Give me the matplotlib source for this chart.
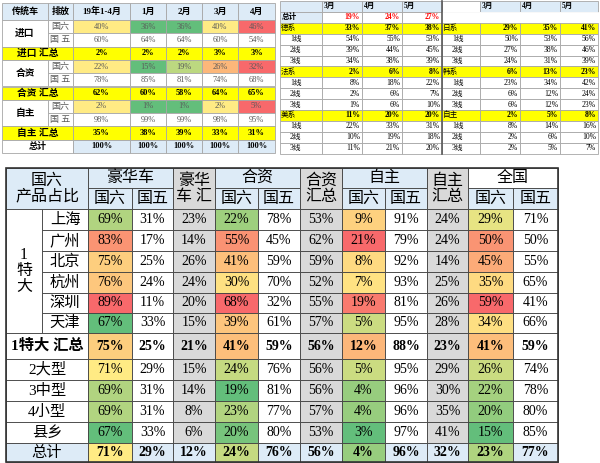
import numpy as np
import matplotlib.pyplot as plt
from matplotlib.patches import Rectangle
from matplotlib.colors import to_rgb

plt.rcParams['font.family'] = ['Liberation Serif', 'Noto Sans CJK SC', 'DejaVu Sans']

# ---------------- data: top-left table ----------------
tl_header = ['传统车', '排放', '19年1-4月', '1月', '2月', '3月', '4月']
tl_groups = ['进口', '合资', '自主']
tl_emis = ['国六', '国 五']
tl_g6 = [[40, 36, 36, 40, 46], [22, 15, 19, 26, 32], [2, 1, 1, 2, 5]]
tl_g5 = [[60, 64, 64, 60, 54], [78, 85, 81, 74, 68], [98, 99, 99, 98, 95]]
tl_sum = [[2, 2, 2, 3, 3], [62, 60, 58, 64, 65], [35, 38, 39, 33, 31]]
tl_total = [100, 100, 100, 100, 100]

# ---------------- data: top-right table ----------------
tr_months = ['3月', '4月', '5月']
tr_total = [19, 24, 27]
tr_left_groups = ['德系', '法系', '美系']
tr_right_groups = ['日系', '韩系', '自主']
tr_lines = ['1线', '2线', '3线']
tr_left = [
    [[33, 37, 38], [54, 55, 53], [39, 44, 45], [34, 38, 39]],
    [[2, 6, 8], [8, 18, 22], [2, 6, 7], [1, 6, 10]],
    [[11, 20, 20], [22, 33, 31], [10, 19, 18], [11, 21, 20]],
]
tr_right = [
    [[29, 35, 41], [50, 53, 56], [27, 38, 46], [24, 31, 39]],
    [[6, 13, 23], [23, 34, 42], [6, 12, 24], [6, 12, 23]],
    [[2, 5, 8], [8, 14, 16], [2, 6, 10], [2, 5, 7]],
]

# ---------------- data: bottom table ----------------
bt_rows = ['上海', '广州', '北京', '杭州', '深圳', '天津', '1特大 汇总',
           '2大型', '3中型', '4小型', '县乡', '总计']
bt_cols = {
    'lux6': [69, 83, 75, 76, 89, 67, 75, 71, 69, 69, 67, 71],
    'lux5': [31, 17, 25, 24, 11, 33, 25, 29, 31, 31, 33, 29],
    'luxs': [23, 14, 26, 24, 20, 15, 21, 15, 14, 8, 6, 12],
    'jv6': [22, 55, 41, 30, 68, 39, 41, 24, 19, 23, 20, 24],
    'jv5': [78, 45, 59, 70, 32, 61, 59, 76, 81, 77, 80, 76],
    'jvs': [53, 62, 59, 52, 55, 57, 56, 56, 56, 57, 53, 56],
    'own6': [9, 21, 8, 7, 19, 5, 12, 5, 4, 4, 3, 4],
    'own5': [91, 79, 92, 93, 81, 95, 88, 95, 96, 96, 97, 96],
    'owns': [24, 24, 14, 25, 26, 28, 23, 29, 30, 35, 41, 32],
    'all6': [29, 50, 45, 35, 59, 34, 41, 26, 22, 20, 15, 23],
    'all5': [71, 50, 55, 65, 41, 66, 59, 74, 78, 80, 85, 77],
}
bt_order = ['lux6', 'lux5', 'luxs', 'jv6', 'jv5', 'jvs', 'own6', 'own5', 'owns', 'all6', 'all5']

# ---------------- styles ----------------
BLUE = '#DDEBF7'
YEL = '#FFFF00'
GRAY = '#D9D9D9'
C_RED, C_YEL, C_GRN = to_rgb('#F8696B'), to_rgb('#FFEB84'), to_rgb('#63BE7B')


def scale3(v, vals):
    # excel style 3-colour scale: green - yellow (median) - red
    lo, mid, hi = min(vals), float(np.median(vals)), max(vals)
    if v <= mid:
        t = 0 if mid == lo else (v - lo) / (mid - lo)
        a, b = C_GRN, C_YEL
    else:
        t = 0 if hi == mid else (v - mid) / (hi - mid)
        a, b = C_YEL, C_RED
    return tuple(a[i] + (b[i] - a[i]) * t for i in range(3))


fig = plt.figure(figsize=(6, 4.63), dpi=100)
ax = fig.add_axes([0, 0, 1, 1])
ax.set_xlim(0, 600)
ax.set_ylim(463, 0)
ax.axis('off')


def cell(x0, x1, y0, y1, text='', fc='white', ec='#A6A6A6', lw=0.6, size=6,
         color='black', weight='normal', ha='center', pad=2):
    ax.add_patch(Rectangle((x0, y0), x1 - x0, y1 - y0, facecolor=fc,
                           edgecolor=ec, linewidth=lw))
    if text != '':
        if ha == 'center':
            tx = (x0 + x1) / 2
        elif ha == 'left':
            tx = x0 + pad
        else:
            tx = x1 - pad
        ax.text(tx, (y0 + y1) / 2, text, ha=ha, va='center', fontsize=size,
                color=color, fontweight=weight, linespacing=1.0)


# ---------------- top-left table ----------------
xe = [2, 48, 73, 130, 166, 202, 238, 275]
ye = [3, 20] + [20 + 13.3 * i for i in range(1, 11)]
for j, h in enumerate(tl_header):
    cell(xe[j], xe[j + 1], ye[0], ye[1], h, fc=BLUE, size=6.5, weight='bold')
for g, name in enumerate(tl_groups):
    r = 1 + 3 * g
    cell(xe[0], xe[1], ye[r], ye[r + 2], name, size=7, weight='bold')
    for k, vals in enumerate([tl_g6[g], tl_g5[g]]):
        cell(xe[1], xe[2], ye[r + k], ye[r + k + 1], tl_emis[k], size=6.5, color='#595959')
        for j, v in enumerate(vals):
            fc = scale3(v, tl_g6[g]) if k == 0 else 'white'
            cell(xe[j + 2], xe[j + 3], ye[r + k], ye[r + k + 1], f'{v}%', fc=fc,
                 size=6, color='#595959')
    cell(xe[0], xe[2], ye[r + 2], ye[r + 3], name + ' 汇总', fc=YEL, size=7, weight='bold')
    for j, v in enumerate(tl_sum[g]):
        cell(xe[j + 2], xe[j + 3], ye[r + 2], ye[r + 3], f'{v}%', fc=YEL, size=6, weight='bold')
cell(xe[0], xe[2], ye[10], ye[11], '总计', size=6.5, weight='bold')
for j, v in enumerate(tl_total):
    cell(xe[j + 2], xe[j + 3], ye[10], ye[11], f'{v}%', fc=BLUE, size=6, weight='bold')

# ---------------- top-right table ----------------
rh = 10.9
ry = [1 + rh * i for i in range(15)]
for side, (xs, groups, data) in enumerate([
        ([280, 322, 362, 402, 442], tr_left_groups, tr_left),
        ([442, 480, 520, 560, 598], tr_right_groups, tr_right)]):
    cell(xs[0], xs[1], ry[0], ry[1], '', fc=BLUE if side == 0 else 'white')
    for j, m in enumerate(tr_months):
        cell(xs[j + 1], xs[j + 2], ry[0], ry[1], m, fc=BLUE, size=5.5, weight='bold', ha='left')
    if side == 0:
        cell(xs[0], xs[1], ry[1], ry[2], '总计', fc=BLUE, size=5.5, weight='bold', ha='left')
        for j, v in enumerate(tr_total):
            cell(xs[j + 1], xs[j + 2], ry[1], ry[2], f'{v}%', size=5.5,
                 color='red', weight='bold', ha='right')
    else:
        for j in range(4):
            cell(xs[j], xs[j + 1], ry[1], ry[2], '', ec='white')
    for g, name in enumerate(groups):
        r = 2 + 4 * g
        for k in range(4):
            fc = YEL if k == 0 else 'white'
            lab = name if k == 0 else tr_lines[k - 1]
            cell(xs[0], xs[1], ry[r + k], ry[r + k + 1], lab, fc=fc, size=5.5,
                 ha='left', pad=1 if k == 0 else 10)
            for j, v in enumerate(data[g][k]):
                cell(xs[j + 1], xs[j + 2], ry[r + k], ry[r + k + 1], f'{v}%', fc=fc,
                     size=5.5, ha='right', weight='bold' if k == 0 else 'normal')
ax.plot([442, 442], [ry[0], ry[14]], color='#595959', lw=1.2)

# ---------------- bottom table ----------------
bx = [6, 42, 88, 132, 173, 215, 258, 300, 342, 385, 427, 468, 513, 558]
by = [168, 188, 209, 230, 251, 272, 293, 313, 333, 359, 380, 401, 422, 443, 462]
EC = '#404040'
cell(bx[0], bx[2], by[0], by[2], '国六\n产品占比', fc=BLUE, ec=EC, size=11.5)
heads = [('豪华车', 2, 4), ('合资', 5, 7), ('自主', 8, 10), ('全国', 11, 13)]
for name, c0, c1 in heads:
    cell(bx[c0], bx[c1], by[0], by[1], name, fc='white' if name == '全国' else BLUE,
         ec=EC, size=11.5)
    cell(bx[c0], bx[c0 + 1], by[1], by[2], '国六', fc=BLUE, ec=EC, size=11.5)
    cell(bx[c0 + 1], bx[c1], by[1], by[2], '国五', fc=BLUE, ec=EC, size=11.5)
for name, c in [('豪华\n车 汇', 4), ('合资\n汇总', 7), ('自主\n汇总', 10)]:
    cell(bx[c], bx[c + 1], by[0], by[2], name, fc=GRAY, ec=EC, size=11.5)

cell(bx[0], bx[1], by[2], by[8], '1\n特\n大', ec=EC, size=11.5)
for i, name in enumerate(bt_rows):
    r = i + 2
    bold = name in ('1特大 汇总', '总计')
    total = name == '总计'
    if i < 6:
        cell(bx[1], bx[2], by[r], by[r + 1], name, ec=EC, size=11)
    else:
        cell(bx[0], bx[2], by[r], by[r + 1], name, fc=BLUE if total else 'white',
             ec=EC, size=11, weight='bold' if name == '1特大 汇总' else 'normal')
    for j, key in enumerate(bt_order):
        v = bt_cols[key][i]
        if key.endswith('6'):
            fc = scale3(v, bt_cols[key])
        elif key.endswith('s'):
            fc = BLUE if total else GRAY
        else:
            fc = BLUE if total else 'white'
        cell(bx[j + 2], bx[j + 3], by[r], by[r + 1], f'{v}%', fc=fc, ec=EC,
             size=10, weight='bold' if bold else 'normal')
ax.add_patch(Rectangle((bx[0], by[0]), bx[-1] - bx[0], by[-1] - by[0],
                       fill=False, edgecolor='#333333', linewidth=1.2))

fig.savefig('out.png', dpi=100)
